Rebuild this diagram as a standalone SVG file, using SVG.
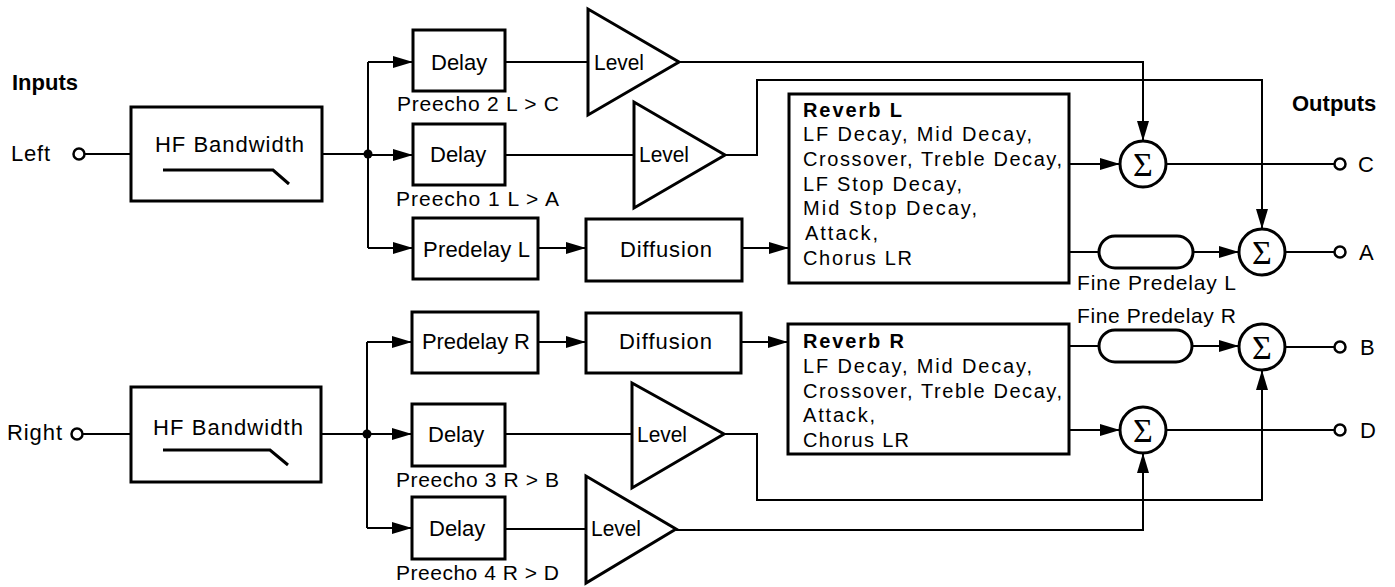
<svg xmlns="http://www.w3.org/2000/svg" width="1395" height="587" viewBox="0 0 1395 587">
  <style>
    .box { fill: #fff; stroke: #000; stroke-width: 3; }
    .amp { fill: #fff; stroke: #000; stroke-width: 3; stroke-linejoin: miter; }
    .wire { fill: none; stroke: #000; stroke-width: 2; }
    .flt { fill: none; stroke: #000; stroke-width: 3; }
    .term { fill: #fff; stroke: #000; stroke-width: 2.5; }
    .sum { fill: #fff; stroke: #000; stroke-width: 3; }
    .dot { fill: #000; }
    text { font-family: "Liberation Sans", Arial, sans-serif; fill: #000; }
    .lbl { font-size: 22px; }
    .sm { font-size: 21px; }
    .rv { font-size: 20px; }
    .hd { font-weight: bold; }
    .sig { font-family: "Liberation Serif", "Times New Roman", serif; font-size: 34px; text-anchor: middle; }
  </style>
  <defs>
    <marker id="arr" markerUnits="userSpaceOnUse" markerWidth="20" markerHeight="12" refX="20" refY="6" orient="auto">
      <path d="M0,0 L20,6 L0,12 z" fill="#000"/>
    </marker>
  </defs>

  <!-- headings -->
  <text class="lbl hd" x="12" y="90">Inputs</text>
  <text class="lbl hd" x="1292" y="111">Outputs</text>

  <!-- connectors -->
  <g id="connectors" class="wire">
    <!-- left channel input and split -->
    <path d="M85,154 H131"/>
    <path d="M322,154 H368"/>
    <path d="M368,62 V248"/>
    <path d="M368,62 H413" marker-end="url(#arr)"/>
    <path d="M368,155 H413" marker-end="url(#arr)"/>
    <path d="M368,248 H413" marker-end="url(#arr)"/>
    <path d="M505,62 H588"/>
    <path d="M505,155 H634"/>
    <path d="M538,248 H586" marker-end="url(#arr)"/>
    <path d="M742,248 H789" marker-end="url(#arr)"/>
    <!-- left preecho taps to summers -->
    <path d="M679,62 H1143 V141" marker-end="url(#arr)"/>
    <path d="M725,155 H757 V80 H1262 V229" marker-end="url(#arr)"/>
    <!-- reverb L outputs -->
    <path d="M1069,164 H1120" marker-end="url(#arr)"/>
    <path d="M1069,252 H1099"/>
    <path d="M1193,252 H1239" marker-end="url(#arr)"/>
    <path d="M1166,164 H1334"/>
    <path d="M1285,252 H1334"/>

    <!-- right channel input and split -->
    <path d="M83,434 H131"/>
    <path d="M321,434 H367"/>
    <path d="M367,342 V528"/>
    <path d="M367,342 H412" marker-end="url(#arr)"/>
    <path d="M367,434 H412" marker-end="url(#arr)"/>
    <path d="M367,528 H412" marker-end="url(#arr)"/>
    <path d="M538,342 H586" marker-end="url(#arr)"/>
    <path d="M741,342 H788" marker-end="url(#arr)"/>
    <path d="M505,434 H632"/>
    <path d="M505,529 H586"/>
    <!-- right preecho taps to summers -->
    <path d="M724,434 H757 V500 H1262 V370" marker-end="url(#arr)"/>
    <path d="M676,530 H1143 V453" marker-end="url(#arr)"/>
    <!-- reverb R outputs -->
    <path d="M1069,346 H1099"/>
    <path d="M1192,346 H1239" marker-end="url(#arr)"/>
    <path d="M1069,430 H1120" marker-end="url(#arr)"/>
    <path d="M1285,347 H1334"/>
    <path d="M1166,430 H1334"/>
  </g>

  <!-- junction dots -->
  <circle class="dot" cx="368" cy="154" r="4.5"/>
  <circle class="dot" cx="367" cy="434" r="4.5"/>

  <!-- input terminals -->
  <g id="in-left">
    <text class="lbl" x="11" y="161" textLength="39" lengthAdjust="spacing">Left</text>
    <circle class="term" cx="79" cy="154" r="5.5"/>
  </g>
  <g id="in-right">
    <text class="lbl" x="7" y="440" textLength="55" lengthAdjust="spacing">Right</text>
    <circle class="term" cx="77" cy="434" r="5.5"/>
  </g>

  <!-- HF bandwidth filters -->
  <g id="hf-left">
    <rect class="box" x="131" y="107" width="191" height="94"/>
    <text class="lbl" x="155" y="152" textLength="149" lengthAdjust="spacing">HF Bandwidth</text>
    <polyline class="flt" points="163,170 273,170 289,184"/>
  </g>
  <g id="hf-right">
    <rect class="box" x="131" y="387" width="190" height="95"/>
    <text class="lbl" x="153" y="435" textLength="150" lengthAdjust="spacing">HF Bandwidth</text>
    <polyline class="flt" points="163,450 270,450 288,465"/>
  </g>

  <!-- preecho delays -->
  <g id="delay-2">
    <rect class="box" x="413" y="30" width="92" height="61"/>
    <text class="lbl" x="431" y="70">Delay</text>
    <text class="sm" x="397" y="111" textLength="162" lengthAdjust="spacing">Preecho 2 L &gt; C</text>
  </g>
  <g id="delay-1">
    <rect class="box" x="413" y="124" width="92" height="61"/>
    <text class="lbl" x="430" y="162">Delay</text>
    <text class="sm" x="396" y="206" textLength="163" lengthAdjust="spacing">Preecho 1 L &gt; A</text>
  </g>
  <g id="delay-3">
    <rect class="box" x="412" y="404" width="93" height="62"/>
    <text class="lbl" x="428" y="442">Delay</text>
    <text class="sm" x="396" y="487" textLength="163" lengthAdjust="spacing">Preecho 3 R &gt; B</text>
  </g>
  <g id="delay-4">
    <rect class="box" x="412" y="497" width="93" height="62"/>
    <text class="lbl" x="429" y="536">Delay</text>
    <text class="sm" x="396" y="580" textLength="163" lengthAdjust="spacing">Preecho 4 R &gt; D</text>
  </g>

  <!-- level amplifiers -->
  <g id="level-2">
    <polygon class="amp" points="588,9 588,115 679,62"/>
    <text class="lbl" x="594" y="70" textLength="50" lengthAdjust="spacingAndGlyphs">Level</text>
  </g>
  <g id="level-1">
    <polygon class="amp" points="634,102 634,208 725,155"/>
    <text class="lbl" x="639" y="162" textLength="50" lengthAdjust="spacingAndGlyphs">Level</text>
  </g>
  <g id="level-3">
    <polygon class="amp" points="632,383 632,488 724,434"/>
    <text class="lbl" x="637" y="442" textLength="50" lengthAdjust="spacingAndGlyphs">Level</text>
  </g>
  <g id="level-4">
    <polygon class="amp" points="586,476 586,583 676,529"/>
    <text class="lbl" x="591" y="536" textLength="50" lengthAdjust="spacingAndGlyphs">Level</text>
  </g>

  <!-- predelays -->
  <g id="predelay-l">
    <rect class="box" x="413" y="218" width="125" height="61"/>
    <text class="lbl" x="423" y="257" textLength="107" lengthAdjust="spacing">Predelay L</text>
  </g>
  <g id="predelay-r">
    <rect class="box" x="412" y="312" width="126" height="61"/>
    <text class="lbl" x="422" y="349" textLength="108" lengthAdjust="spacing">Predelay R</text>
  </g>

  <!-- diffusion -->
  <g id="diffusion-l">
    <rect class="box" x="586" y="219" width="156" height="62"/>
    <text class="lbl" x="620" y="257" textLength="92" lengthAdjust="spacing">Diffusion</text>
  </g>
  <g id="diffusion-r">
    <rect class="box" x="586" y="313" width="155" height="60"/>
    <text class="lbl" x="619" y="349" textLength="93" lengthAdjust="spacing">Diffusion</text>
  </g>

  <!-- reverb cores -->
  <g id="reverb-l">
    <rect class="box" x="789" y="94" width="280" height="189"/>
    <text class="rv hd" x="803" y="117" textLength="99" lengthAdjust="spacing">Reverb L</text>
    <text class="rv" x="803" y="141" textLength="229" lengthAdjust="spacing">LF Decay, Mid Decay,</text>
    <text class="rv" x="803" y="166" textLength="259" lengthAdjust="spacing">Crossover, Treble Decay,</text>
    <text class="rv" x="803" y="191" textLength="159" lengthAdjust="spacing">LF Stop Decay,</text>
    <text class="rv" x="803" y="215" textLength="174" lengthAdjust="spacing">Mid Stop Decay,</text>
    <text class="rv" x="805" y="240" textLength="73" lengthAdjust="spacing">Attack,</text>
    <text class="rv" x="803" y="265" textLength="109" lengthAdjust="spacing">Chorus LR</text>
  </g>
  <g id="reverb-r">
    <rect class="box" x="788" y="324" width="281" height="130"/>
    <text class="rv hd" x="803" y="348" textLength="101" lengthAdjust="spacing">Reverb R</text>
    <text class="rv" x="803" y="373" textLength="229" lengthAdjust="spacing">LF Decay, Mid Decay,</text>
    <text class="rv" x="803" y="398" textLength="259" lengthAdjust="spacing">Crossover, Treble Decay,</text>
    <text class="rv" x="803" y="422" textLength="72" lengthAdjust="spacing">Attack,</text>
    <text class="rv" x="803" y="447" textLength="106" lengthAdjust="spacing">Chorus LR</text>
  </g>

  <!-- fine predelays -->
  <g id="fine-predelay-l">
    <rect class="box" x="1099" y="236" width="94" height="32" rx="16" ry="16"/>
    <text class="sm" x="1077" y="290" textLength="159" lengthAdjust="spacing">Fine Predelay L</text>
  </g>
  <g id="fine-predelay-r">
    <rect class="box" x="1099" y="330" width="93" height="32" rx="16" ry="16"/>
    <text class="sm" x="1077" y="323" textLength="159" lengthAdjust="spacing">Fine Predelay R</text>
  </g>

  <!-- summing junctions -->
  <g id="sum-c">
    <circle class="sum" cx="1143" cy="164" r="23"/>
    <text class="sig" x="1143" y="176">Σ</text>
  </g>
  <g id="sum-a">
    <circle class="sum" cx="1262" cy="252" r="23"/>
    <text class="sig" x="1262" y="264">Σ</text>
  </g>
  <g id="sum-b">
    <circle class="sum" cx="1262" cy="347" r="23"/>
    <text class="sig" x="1262" y="359">Σ</text>
  </g>
  <g id="sum-d">
    <circle class="sum" cx="1143" cy="430" r="23"/>
    <text class="sig" x="1143" y="442">Σ</text>
  </g>

  <!-- output terminals -->
  <g id="out-c">
    <circle class="term" cx="1340" cy="164" r="5.5"/>
    <text class="lbl" x="1358" y="172">C</text>
  </g>
  <g id="out-a">
    <circle class="term" cx="1340" cy="252" r="5.5"/>
    <text class="lbl" x="1359" y="260">A</text>
  </g>
  <g id="out-b">
    <circle class="term" cx="1340" cy="347" r="5.5"/>
    <text class="lbl" x="1360" y="355">B</text>
  </g>
  <g id="out-d">
    <circle class="term" cx="1340" cy="430" r="5.5"/>
    <text class="lbl" x="1360" y="438">D</text>
  </g>
</svg>
